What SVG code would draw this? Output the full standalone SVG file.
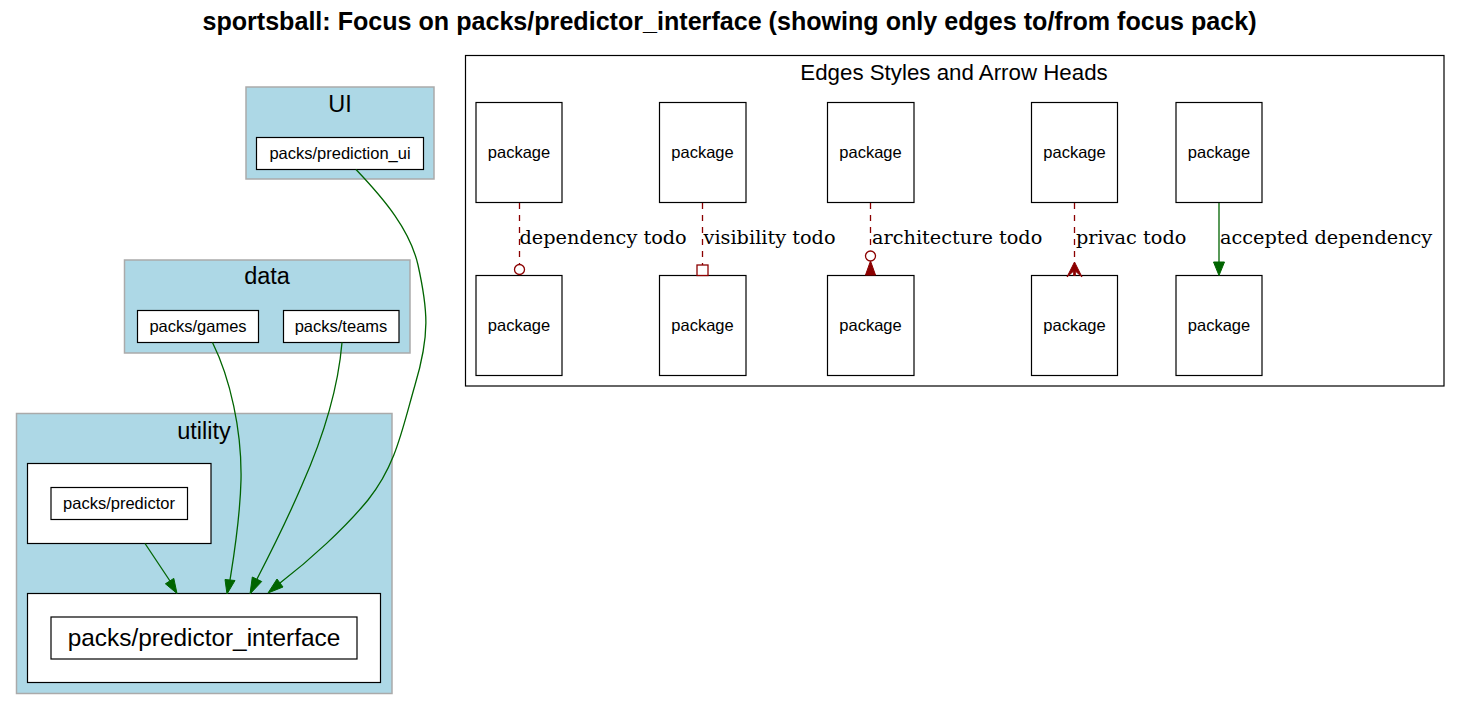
<svg xmlns="http://www.w3.org/2000/svg" width="1461" height="710" viewBox="0 0 1461 710">
<style>
.title{font-family:"Liberation Sans",Arial,sans-serif;font-weight:bold;font-size:25.1px;text-anchor:middle;fill:#000}
.cl{fill:#add8e6;stroke:#aaaaaa;stroke-width:1.5}
.cllab{font-family:"Liberation Sans",Arial,sans-serif;font-size:23.5px;text-anchor:middle;fill:#000}
.box{fill:#fff;stroke:#000;stroke-width:1.2}
.nt{font-family:"Liberation Sans",Arial,sans-serif;font-size:16.5px;text-anchor:middle;fill:#000}
.big{font-family:"Liberation Sans",Arial,sans-serif;font-size:24.4px;text-anchor:middle;fill:#000}
.leg{fill:#fff;stroke:#000;stroke-width:1.2}
.legt{font-family:"Liberation Sans",Arial,sans-serif;font-size:22.3px;text-anchor:middle;fill:#000}
.el{font-family:"DejaVu Serif","Liberation Serif",serif;font-size:19.3px;fill:#000}
.g{fill:none;stroke:#006400;stroke-width:1.3}
.gh{fill:#006400;stroke:#006400;stroke-width:1}
.r{fill:none;stroke:#8b0000;stroke-width:1.3;stroke-dasharray:6,6}
.ro{fill:#fff;stroke:#8b0000;stroke-width:1.3}
.rf{fill:#8b0000;stroke:#8b0000;stroke-width:1}
</style>
<rect width="1461" height="710" fill="#fff"/>
<text class="title" x="729.5" y="30">sportsball: Focus on packs/predictor_interface (showing only edges to/from focus pack)</text>

<g id="cluster_UI">
<rect class="cl" x="246" y="87" width="188" height="92"/>
<text class="cllab" x="340" y="111.5">UI</text>
</g>
<g id="node_prediction_ui">
<rect class="box" x="256.5" y="137.5" width="167" height="32"/>
<text class="nt" x="340" y="159">packs/prediction_ui</text>
</g>

<g id="cluster_data">
<rect class="cl" x="124.5" y="260" width="285.5" height="93"/>
<text class="cllab" x="267" y="283.5">data</text>
</g>
<g id="node_games">
<rect class="box" x="137.5" y="310.5" width="121" height="32"/>
<text class="nt" x="198" y="332">packs/games</text>
</g>
<g id="node_teams">
<rect class="box" x="283.5" y="310.5" width="115.5" height="32"/>
<text class="nt" x="341" y="332">packs/teams</text>
</g>

<g id="cluster_utility">
<rect class="cl" x="16.5" y="413.5" width="375.5" height="280"/>
<text class="cllab" x="204" y="438.5">utility</text>
</g>
<g id="node_predictor">
<rect class="box" x="27.5" y="463.5" width="183.5" height="80"/>
<rect class="box" x="51" y="487.5" width="136.5" height="32"/>
<text class="nt" x="119" y="509">packs/predictor</text>
</g>
<g id="node_predictor_interface">
<rect class="box" x="27.5" y="593.5" width="353" height="89"/>
<rect class="box" x="51" y="617" width="306" height="42"/>
<text class="big" x="204" y="646">packs/predictor_interface</text>
</g>

<g id="connectors">
<path class="g" d="M145,543.5 L170,581"/>
<polygon class="gh" points="173.8,578.4 165.4,583.8 177,593.5"/>
<path class="g" d="M212.5,342.5 C230,378 242,430 241,480 C240,520 234,555 230,580"/>
<polygon class="gh" points="235,580.5 225,579.5 227,594"/>
<path class="g" d="M342,342.5 C338,390 322,440 302,485 C287,520 272,550 257,579"/>
<polygon class="gh" points="261.7,581.5 252.3,577 250,594"/>
<path class="g" d="M356,169.5 C385,200 410,230 418,265 C428,310 430,335 415,385 C402,430 396,465 368,500 C345,528 310,560 280,583"/>
<polygon class="gh" points="283,587 277,579 268,593"/>
</g>

<g id="legend">
<rect class="leg" x="465.5" y="55.5" width="978.5" height="330.5"/>
<text class="legt" x="954" y="79.5">Edges Styles and Arrow Heads</text>
</g>
<g id="legend_nodes">
<g id="lp1t"><rect class="box" x="476" y="102.5" width="86" height="100"/><text class="nt" x="519" y="157.5">package</text></g>
<g id="lp1b"><rect class="box" x="476" y="275.5" width="86" height="100"/><text class="nt" x="519" y="330.5">package</text></g>
<g id="lp2t"><rect class="box" x="659.5" y="102.5" width="86.5" height="100"/><text class="nt" x="702.5" y="157.5">package</text></g>
<g id="lp2b"><rect class="box" x="659.5" y="275.5" width="86.5" height="100"/><text class="nt" x="702.5" y="330.5">package</text></g>
<g id="lp3t"><rect class="box" x="827.5" y="102.5" width="86.5" height="100"/><text class="nt" x="870.5" y="157.5">package</text></g>
<g id="lp3b"><rect class="box" x="827.5" y="275.5" width="86.5" height="100"/><text class="nt" x="870.5" y="330.5">package</text></g>
<g id="lp4t"><rect class="box" x="1031.5" y="102.5" width="86" height="100"/><text class="nt" x="1074.5" y="157.5">package</text></g>
<g id="lp4b"><rect class="box" x="1031.5" y="275.5" width="86" height="100"/><text class="nt" x="1074.5" y="330.5">package</text></g>
<g id="lp5t"><rect class="box" x="1176" y="102.5" width="86" height="100"/><text class="nt" x="1219" y="157.5">package</text></g>
<g id="lp5b"><rect class="box" x="1176" y="275.5" width="86" height="100"/><text class="nt" x="1219" y="330.5">package</text></g>
</g>
<g id="legend_connectors">
<path class="r" d="M519.5,203 L519.5,264"/>
<circle class="ro" cx="519.5" cy="269.5" r="5"/>
<text class="el" x="519.5" y="243.5">dependency todo</text>

<path class="r" d="M702.5,203 L702.5,265"/>
<rect class="ro" x="697" y="265" width="11" height="10.5"/>
<text class="el" x="703.5" y="243.5">visibility todo</text>

<path class="r" d="M870.5,203 L870.5,251"/>
<circle class="ro" cx="870.5" cy="256" r="5"/>
<polygon class="rf" points="870.5,261 875.5,275 865.5,275"/>
<text class="el" x="872" y="243.5">architecture todo</text>

<path class="r" d="M1074.5,203 L1074.5,263"/>
<polygon class="rf" points="1074.5,262 1082,277 1075.3,271 1075.3,275.5 1073.7,275.5 1073.7,271 1067,277"/>
<text class="el" x="1076" y="243.5">privac todo</text>

<path class="g" d="M1219,203 L1219,262"/>
<polygon class="gh" points="1213.5,262 1224.5,262 1219,275.5"/>
<text class="el" x="1220" y="243.5">accepted dependency</text>
</g>
</svg>
